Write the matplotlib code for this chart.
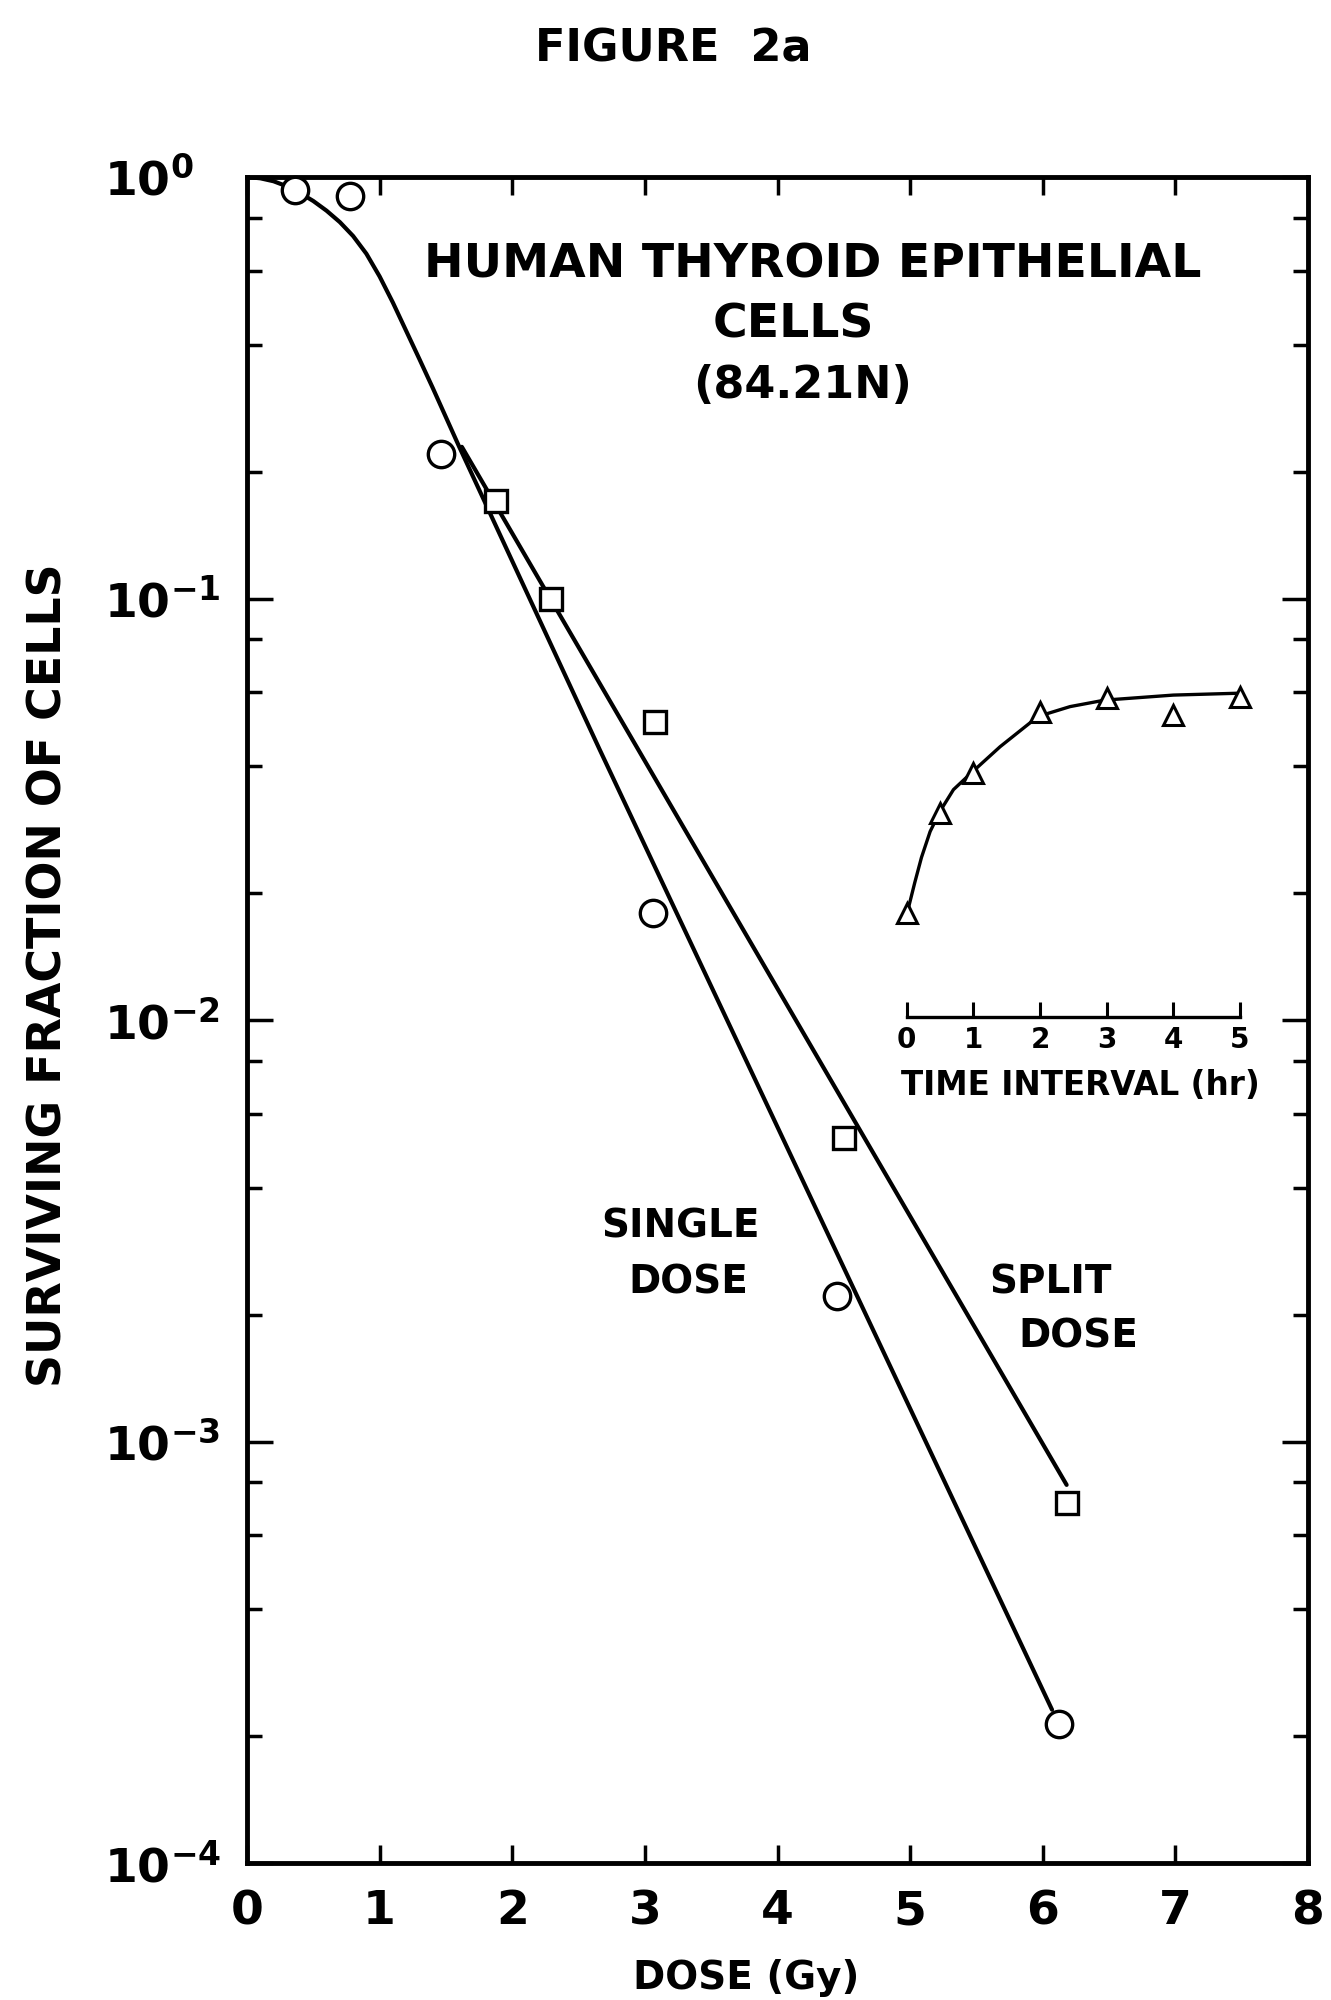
import matplotlib
matplotlib.use('Agg')
import matplotlib.pyplot as plt
import numpy as np
from matplotlib.ticker import FixedLocator, FuncFormatter, NullFormatter

plt.rcParams['font.family'] = ['DejaVu Sans']
plt.rcParams['font.weight'] = 'bold'
plt.rcParams['mathtext.fontset'] = 'custom'
plt.rcParams['mathtext.rm'] = 'DejaVu Sans:bold'
plt.rcParams['mathtext.it'] = 'DejaVu Sans:bold'
plt.rcParams['mathtext.bf'] = 'DejaVu Sans:bold'

# ---------------- data ----------------
single_dose = [0.36, 0.78, 1.46, 3.06, 4.45, 6.12]
single_sf = [0.93, 0.90, 0.220, 0.0179, 0.00221, 0.000214]

split_dose = [1.88, 2.29, 3.08, 4.50, 6.18]
split_sf = [0.170, 0.0997, 0.0510, 0.00526, 0.000713]

single_fit_dose = [0.0, 0.1, 0.2, 0.3, 0.4, 0.5, 0.6, 0.7, 0.8, 0.9, 1.0,
                   1.1, 1.2, 1.3, 1.4, 1.6, 2.66, 6.07]
single_fit_sf = [1.0, 0.9931, 0.9772, 0.9506, 0.9162, 0.8770, 0.8318, 0.7816,
                 0.7244, 0.6577, 0.5808, 0.5035, 0.4315, 0.3698, 0.3162,
                 0.2291, 0.04375, 0.000231]

split_fit_dose = [1.62, 6.18]
split_fit_sf = [0.229, 0.000789]

interval_hr = [0, 0.5, 1, 2, 3, 4, 5]
interval_sf = [0.0179, 0.0309, 0.0385, 0.0539, 0.0581, 0.0529, 0.0584]

interval_fit_hr = [0.03, 0.12, 0.22, 0.35, 0.50, 0.70, 0.97, 1.40, 1.97, 2.45,
                   2.97, 4.0, 4.97]
interval_fit_sf = [0.0186, 0.0212, 0.0243, 0.0280, 0.0313, 0.0352, 0.0386,
                   0.0445, 0.0525, 0.0554, 0.0574, 0.0590, 0.0596]

x_ticks = [0, 1, 2, 3, 4, 5, 6, 7, 8]
y_ticks = [1e-4, 1e-3, 1e-2, 1e-1, 1e0]
inset_ticks = [0, 1, 2, 3, 4, 5]

# ---------------- figure ----------------
W, H = 1331, 2000
fig = plt.figure(figsize=(W / 100, H / 100), dpi=100)
fig.patch.set_facecolor('white')

ax_l, ax_r, ax_t, ax_b = 247, 1308, 177, 1863
ax = fig.add_axes([ax_l / W, 1 - ax_b / H, (ax_r - ax_l) / W, (ax_b - ax_t) / H])
ax.set_xlim(0, 8)
ax.set_yscale('log')
ax.set_ylim(1e-4, 1)

for s in ax.spines.values():
    s.set_linewidth(3.5)
    s.set_color('black')

ax.xaxis.set_major_locator(FixedLocator(x_ticks))
ax.xaxis.set_major_formatter(FuncFormatter(lambda v, p: '%d' % v))
ax.yaxis.set_major_locator(FixedLocator(y_ticks))
ax.yaxis.set_major_formatter(FuncFormatter(lambda v, p: r'$10^{%d}$' % int(round(np.log10(v)))))
ax.yaxis.set_minor_locator(matplotlib.ticker.LogLocator(base=10, subs=[2, 4, 6, 8]))
ax.yaxis.set_minor_formatter(NullFormatter())

ax.tick_params(axis='both', which='both', direction='in', top=True, right=True,
               width=2.5, color='black')
ax.tick_params(axis='x', which='major', length=13, pad=19, labelsize=34)
# y labels are left-aligned at a fixed column
ax.tick_params(axis='y', which='major', length=19, pad=(ax_l - 104) * 0.72, labelsize=34)
ax.tick_params(axis='y', which='minor', length=11)
for t in ax.yaxis.get_major_ticks():
    t.label1.set_horizontalalignment('left')

# curves
ax.plot(single_fit_dose, single_fit_sf, color='black', lw=3.0, zorder=2,
        solid_capstyle='round', solid_joinstyle='round')
ax.plot(split_fit_dose, split_fit_sf, color='black', lw=3.0, zorder=2,
        solid_capstyle='round')

# data points
ax.plot(single_dose, single_sf, linestyle='none', marker='o', ms=19, mew=2.4,
        mfc='white', mec='black', zorder=4, clip_on=False)
ax.plot(split_dose, split_sf, linestyle='none', marker='s', ms=16, mew=2.4,
        mfc='white', mec='black', zorder=4, clip_on=False)

# ---------------- inset (shares main log scale vertically) ----------------
ix0, ix1 = 4.975, 7.487
iy0 = 0.01018
ins = ax.inset_axes([ix0, iy0, ix1 - ix0, 1.0 - iy0], transform=ax.transData)
ins.set_xlim(0, 5)
ins.set_yscale('log')
ins.set_ylim(iy0, 1.0)
ins.patch.set_visible(False)
for k in ['top', 'left', 'right']:
    ins.spines[k].set_visible(False)
ins.spines['bottom'].set_linewidth(2.4)
ins.xaxis.set_major_locator(FixedLocator(inset_ticks))
ins.xaxis.set_major_formatter(FuncFormatter(lambda v, p: '%d' % v))
ins.tick_params(axis='x', direction='in', length=11, width=2.2, labelsize=20, pad=7)
ins.tick_params(axis='y', which='both', left=False, labelleft=False,
                right=False, labelright=False)
ins.plot(interval_fit_hr, interval_fit_sf, color='black', lw=2.4, zorder=2,
         solid_joinstyle='round')
ins.plot(interval_hr, interval_sf, linestyle='none', marker='^', ms=15, mew=2.2,
         mfc='white', mec='black', zorder=4, clip_on=False)

# ---------------- texts ----------------
def ftext(x, y, s, size, **kw):
    fig.text(x / W, 1 - y / H, s, fontsize=size, fontweight='bold',
             ha=kw.pop('ha', 'center'), va=kw.pop('va', 'baseline'), **kw)

ftext(673, 62, 'FIGURE  2a', 32)
ftext(813, 277, 'HUMAN THYROID EPITHELIAL', 34)
ftext(793, 337, 'CELLS', 34)
ftext(803, 398, '(84.21N)', 32)
ftext(681, 1238, 'SINGLE', 28)
ftext(688, 1293, 'DOSE', 28)
ftext(1050, 1293, 'SPLIT', 28)
ftext(1078, 1347, 'DOSE', 28)
ftext(1080, 1095, 'TIME INTERVAL (hr)', 23.5)
ftext(746, 1989, 'DOSE (Gy)', 28)
fig.text(62 / W, 1 - 975 / H, 'SURVIVING FRACTION OF CELLS', fontsize=33,
         fontweight='bold', rotation=90, rotation_mode='anchor',
         ha='center', va='baseline')

fig.savefig('out.png', dpi=100, facecolor='white')
